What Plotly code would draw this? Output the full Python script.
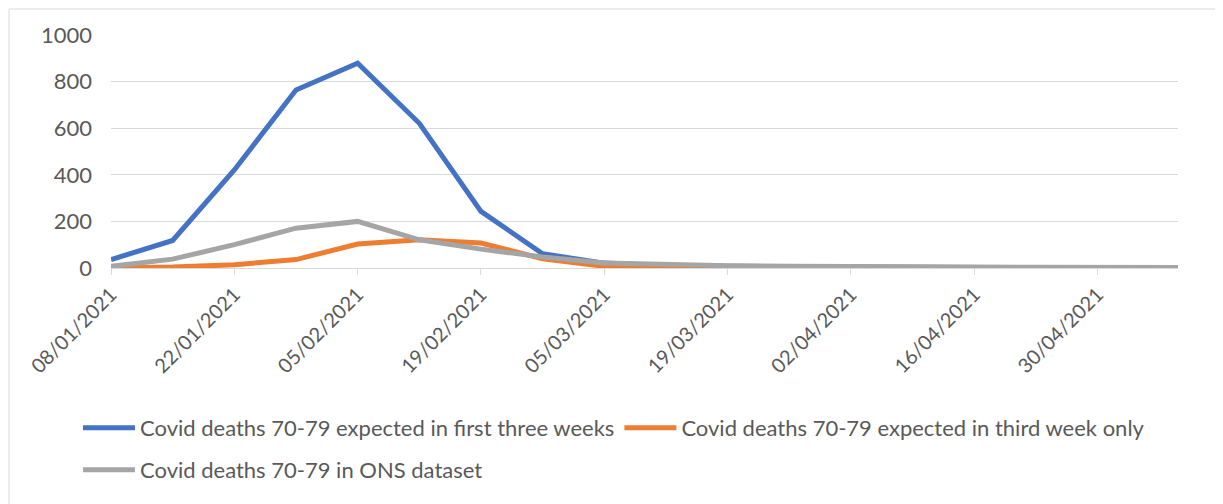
import plotly.graph_objects as go
import pandas as pd

dates = pd.date_range("2021-01-08", periods=19, freq="7D")
first_three_weeks = [36, 118, 421, 764, 879, 621, 243, 61, 21, 11, 7, 5, 3, 2, 2, 1, 1, 1, 1]
third_week_only = [1, 4, 14, 36, 103, 121, 107, 40, 7, 2, 1, 1, 0, 0, 0, 0, 0, 0, 0]
ons_dataset = [7, 38, 100, 171, 200, 121, 81, 47, 21, 14, 10, 8, 5, 4, 4, 3, 3, 2, 2]
names = [
    "Covid deaths 70-79 expected in first three weeks",
    "Covid deaths 70-79 expected in third week only",
    "Covid deaths 70-79 in ONS dataset",
]
colors = ["#4472C4", "#ED7D31", "#A5A5A5"]
legends = ["legend", "legend", "legend2"]

fig = go.Figure()
for name, vals, col, lg in zip(names, [first_three_weeks, third_week_only, ons_dataset], colors, legends):
    fig.add_trace(go.Scatter(x=dates, y=vals, name=name, mode="lines", legend=lg,
                             line=dict(color=col, width=5)))

txt = "#595959"
W, H = 1215, 496
leg_common = dict(orientation="h", xref="container", yref="container",
                  xanchor="left", yanchor="middle",
                  font=dict(size=22, color=txt), itemwidth=52,
                  bgcolor="rgba(0,0,0,0)")
fig.update_layout(
    width=W, height=H,
    margin=dict(l=103, r=45, t=27, b=236),
    paper_bgcolor="white", plot_bgcolor="white",
    font=dict(family="Lato", color=txt),
    showlegend=True,
    legend=dict(x=70/W, y=1-420/H, **leg_common),
    legend2=dict(x=70/W, y=1-462/H, **leg_common),
    xaxis=dict(type="date", range=["2021-01-08", "2021-05-09 03:00"],
               tick0="2021-01-08", dtick=14*86400000, tickformat="%d/%m/%Y",
               tickangle=-45, tickfont=dict(size=20, color=txt),
               showgrid=False, showline=True, linecolor="#D9D9D9", linewidth=1,
               ticks="outside", ticklen=6, tickcolor="#D9D9D9", zeroline=False),
    yaxis=dict(range=[0, 1000], dtick=200, tickfont=dict(size=22, color=txt),
               showgrid=True, gridcolor="#D9D9D9", gridwidth=1,
               zeroline=False, showline=False, ticks="", ticklabelstandoff=18),
    shapes=[dict(type="rect", xref="paper", yref="paper",
                 x0=(1-103)/1067, x1=(1213.5-103)/1067,
                 y0=(260-520)/233, y1=(260-1)/233,
                 line=dict(color="#D9D9D9", width=1), fillcolor="rgba(0,0,0,0)",
                 layer="below")],
)
fig.write_html("out.html")
